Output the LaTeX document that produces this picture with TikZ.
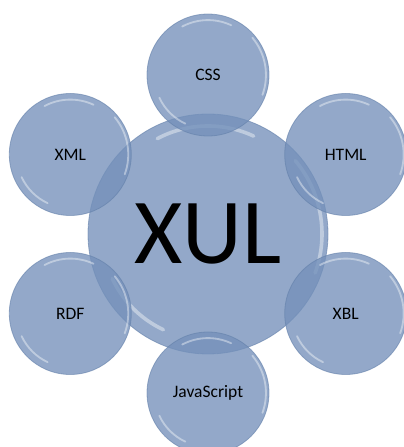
\documentclass[tikz,border=0pt]{standalone}
\usepackage{fontspec}
\setmainfont{Carlito}
\usepackage{tikz}
\usetikzlibrary{calc}
\definecolor{bubblefill}{RGB}{116,144,186}
\definecolor{bubblerim}{RGB}{100,128,170}

\tikzset{
  bubble/.style={circle,draw=bubblerim,line width=0.8pt,fill=bubblefill,
    fill opacity=0.78,draw opacity=0.6,text opacity=1,inner sep=0pt,
    path picture={
      \path let \p1=($(path picture bounding box.north)-(path picture bounding box.center)$),
        \n1={veclen(\x1,\y1)} in
        [white,line cap=round]
        ($(path picture bounding box.center)+(65:0.9*\n1)$)
          [draw,opacity=0.8,line width=0.05*\n1] arc[start angle=65,end angle=118,radius=0.9*\n1]
        ($(path picture bounding box.center)+(205:0.88*\n1)$)
          [draw,opacity=0.7,line width=0.06*\n1] arc[start angle=205,end angle=245,radius=0.88*\n1]
        ($(path picture bounding box.center)+(-20:0.95*\n1)$)
          [draw,opacity=0.4,line width=0.03*\n1] arc[start angle=-20,end angle=40,radius=0.95*\n1];
    }},
  small/.style={bubble,minimum size=122pt,font=\fontsize{17.5}{20}\selectfont}
}

\begin{document}
\begin{tikzpicture}[x=1pt,y=1pt]
\useasboundingbox (0,0) rectangle (404,447);

\node[bubble,minimum size=240pt,font=\fontsize{93}{100}\selectfont] (xul) at (208,213) {XUL};

\begin{scope}[every node/.style={small}]
    \node (css)  at ([shift={(90:159)}]xul)  {CSS};
    \node (html) at ([shift={(30:159)}]xul)  {HTML};
    \node (xbl)  at ([shift={(-30:159)}]xul) {XBL};
    \node (js)   at ([shift={(-90:159)}]xul) {JavaScript};
    \node (rdf)  at ([shift={(210:159)}]xul) {RDF};
    \node (xml)  at ([shift={(150:159)}]xul) {XML};
\end{scope}

\end{tikzpicture}
\end{document}
